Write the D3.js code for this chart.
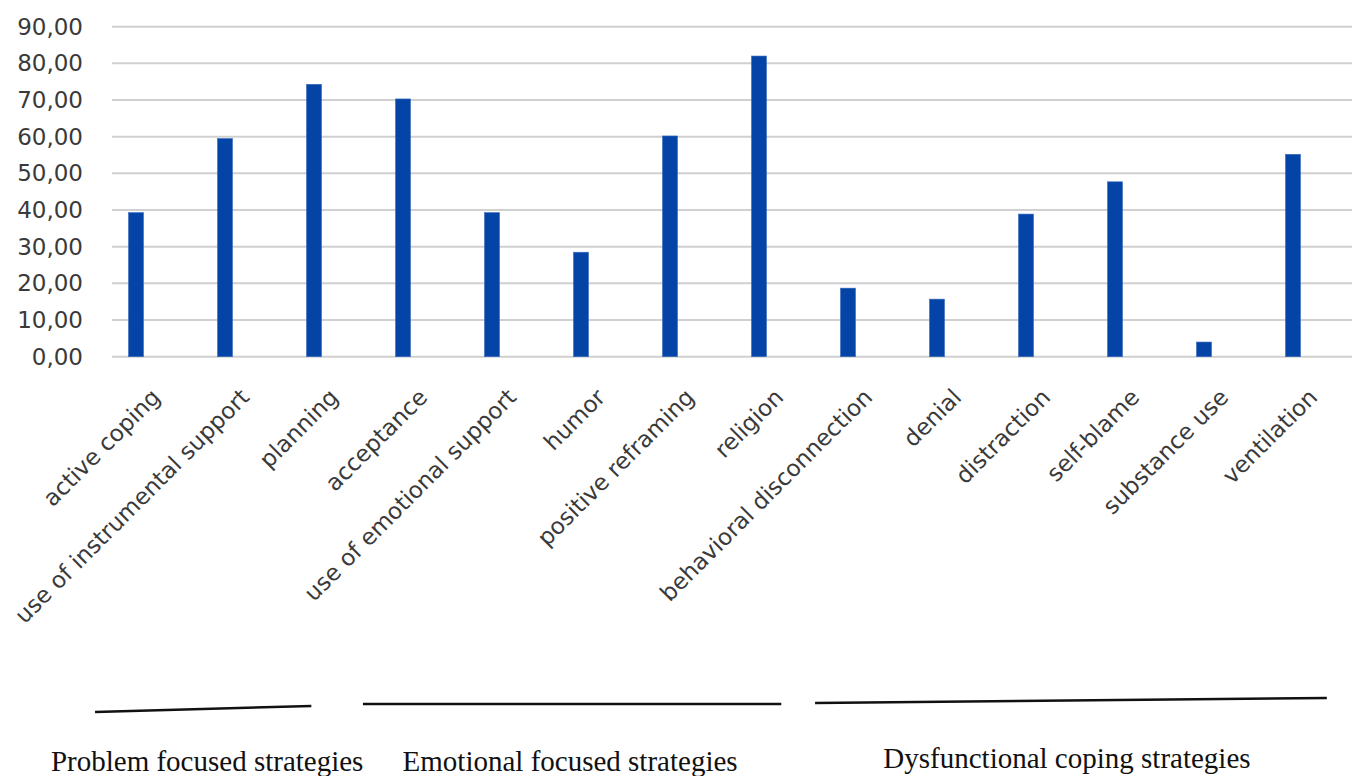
<!DOCTYPE html>
<html>
<head>
<meta charset="utf-8">
<script src="https://cdn.jsdelivr.net/npm/d3@7"></script>
<style>
  html, body { margin: 0; padding: 0; background: #ffffff; }
  svg { display: block; }
</style>
</head>
<body>
<svg id="chart" width="1352" height="776"></svg>
<script>
// Coping strategies: share of respondents (%)
const categories = [
  "active coping", "use of instrumental support", "planning", "acceptance",
  "use of emotional support", "humor", "positive reframing", "religion",
  "behavioral disconnection", "denial", "distraction", "self-blame",
  "substance use", "ventilation"
];
const values = [39.3, 59.5, 74.3, 70.3, 39.3, 28.5, 60.2, 82.0, 18.7, 15.7, 38.9, 47.7, 4.0, 55.2];
const yTicks = [0, 10, 20, 30, 40, 50, 60, 70, 80, 90];

// Strategy groups, given as spans in category-index units
const groupNames = ["Problem focused strategies", "Emotional focused strategies", "Dysfunctional coping strategies"];
const groupFrom = [-0.46, 2.55, 7.63];
const groupTo = [1.97, 7.25, 13.38];

const W = 1352, H = 776;
const plotLeft = 112, plotRight = 1352;
const svg = d3.select("#chart");

const x = d3.scaleBand()
  .domain(categories)
  .range([91.5, 1337.5])
  .paddingInner(0.831)
  .paddingOuter(0.4155);

const y = d3.scaleLinear().domain([0, 90]).range([356.7, 26.7]);

// index -> x position of category centre (used for group brackets)
const xi = d3.scaleLinear()
  .domain([0, categories.length - 1])
  .range([x(categories[0]) + x.bandwidth() / 2, x(categories[categories.length - 1]) + x.bandwidth() / 2]);

// Gridlines
svg.append("g")
  .selectAll("line")
  .data(yTicks)
  .join("line")
  .attr("x1", plotLeft).attr("x2", plotRight)
  .attr("y1", d => y(d)).attr("y2", d => y(d))
  .attr("stroke", "#d0d0d0")
  .attr("stroke-width", 2);

// Y axis labels
const fmt = d => d3.format(".2f")(d).replace(".", ",");
const yAxis = d3.axisLeft(y).tickValues(yTicks).tickFormat(fmt).tickSize(0).tickPadding(0);
const gy = svg.append("g").attr("transform", "translate(83,0)").call(yAxis);
gy.select(".domain").remove();
gy.selectAll("text")
  .attr("font-family", "'DejaVu Sans', sans-serif")
  .attr("font-size", 23)
  .attr("fill", "#3a3a3a");

// Bars
svg.append("g")
  .selectAll("rect")
  .data(values)
  .join("rect")
  .attr("x", (d, i) => x(categories[i]))
  .attr("y", d => y(d))
  .attr("width", x.bandwidth())
  .attr("height", d => y(0) - y(d))
  .attr("fill", "#0344a6")
  .attr("stroke", "#3d6cc0")
  .attr("stroke-width", 0.6);

// Category labels, rotated
svg.append("g")
  .selectAll("text")
  .data(categories)
  .join("text")
  .attr("transform", d => `translate(${x(d) + x.bandwidth() / 2 + 20},393) rotate(-45)`)
  .attr("text-anchor", "end")
  .attr("dy", "0.35em")
  .attr("font-family", "'DejaVu Sans', sans-serif")
  .attr("font-size", 23)
  .attr("fill", "#3a3a3a")
  .text(d => d);

// Group brackets and names
const lineY1 = [712, 704, 703];
const lineY2 = [706, 704, 698];
const textY = [771, 771, 768];
const grp = svg.append("g");
grp.selectAll("line")
  .data(groupNames)
  .join("line")
  .attr("x1", (d, i) => xi(groupFrom[i]))
  .attr("x2", (d, i) => xi(groupTo[i]))
  .attr("y1", (d, i) => lineY1[i])
  .attr("y2", (d, i) => lineY2[i])
  .attr("stroke", "#111")
  .attr("stroke-width", 2.5);
grp.selectAll("text")
  .data(groupNames)
  .join("text")
  .attr("x", (d, i) => xi((groupFrom[i] + groupTo[i]) / 2) + [4, -2, -4][i])
  .attr("y", (d, i) => textY[i])
  .attr("text-anchor", "middle")
  .attr("font-family", "'Liberation Serif', 'Times New Roman', serif")
  .attr("font-size", 29)
  .attr("fill", "#111")
  .text(d => d);
</script>
</body>
</html>
